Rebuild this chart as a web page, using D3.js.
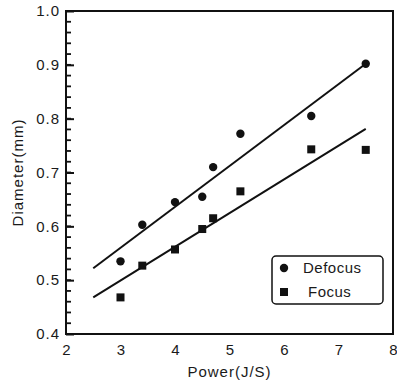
<!DOCTYPE html>
<html>
<head>
<meta charset="utf-8">
<script src="https://cdn.jsdelivr.net/npm/d3@7"></script>
<style>
  body { margin: 0; background: #fff; }
  text { font-family: "Liberation Sans", Arial, sans-serif; fill: #1a1a1a; }
</style>
</head>
<body>
<div id="chart"></div>
<script>
// data
var power = [3, 3.4, 4, 4.5, 4.7, 5.2, 6.5, 7.5]
var defocus = [0.535, 0.603, 0.645, 0.655, 0.71, 0.772, 0.805, 0.902]
var focus = [0.468, 0.527, 0.557, 0.595, 0.615, 0.665, 0.743, 0.742]
// fitted lines, end points as drawn
var fitX = [2.5, 7.5]
var fitDefocus = [0.522, 0.902]
var fitFocus = [0.468, 0.781]
var xTicks = [2, 3, 4, 5, 6, 7, 8]
var yTicks = [0.4, 0.5, 0.6, 0.7, 0.8, 0.9, 1.0]
var legendNames = ["Defocus", "Focus"]

var W = 397, H = 382
// plot box (note: "top" is taken by window.top)
var pL = 66, pR = 393, pT = 11, pB = 334

var svg = d3.select("#chart").append("svg")
    .attr("width", W)
    .attr("height", H)

var x = d3.scaleLinear().domain([2, 8]).range([pL, pR])
var y = d3.scaleLinear().domain([0.4, 1.0]).range([pB, pT])

// frame
svg.append("rect")
    .attr("x", pL).attr("y", pT)
    .attr("width", pR - pL).attr("height", pB - pT)
    .attr("fill", "none")
    .attr("stroke", "#111")
    .attr("stroke-width", 2)

// y ticks pointing inward: minor every 0.02, major at labels
var minorY = d3.range(21, 50).map(d => d / 50)
svg.append("g").selectAll("line")
    .data(minorY)
    .enter().append("line")
    .attr("x1", pL).attr("x2", pL + 5)
    .attr("y1", d => y(d)).attr("y2", d => y(d))
    .attr("stroke", "#111")
    .attr("stroke-width", 1.8)

var yAxis = svg.append("g")
    .attr("transform", "translate(" + pL + ",0)")
    .call(d3.axisLeft(y).tickValues(yTicks).tickSize(0).tickPadding(6).tickFormat(d3.format(".1f")))
yAxis.select(".domain").remove()
yAxis.selectAll(".tick line")
    .attr("x1", 0).attr("x2", 8)
    .attr("stroke", "#111").attr("stroke-width", 2)
yAxis.selectAll("text")
    .style("font-size", "15px")
    .style("letter-spacing", "1px")
    .style("font-family", "'Liberation Sans', Arial, sans-serif")
    .attr("fill", "#1a1a1a")

// x labels, no tick marks
var xAxis = svg.append("g")
    .attr("transform", "translate(0," + pB + ")")
    .call(d3.axisBottom(x).tickValues(xTicks).tickSize(0).tickPadding(10).tickFormat(d3.format("d")))
xAxis.select(".domain").remove()
xAxis.selectAll("text")
    .style("font-size", "15px")
    .style("font-family", "'Liberation Sans', Arial, sans-serif")
    .attr("fill", "#1a1a1a")

// axis titles
svg.append("text")
    .attr("x", (pL + pR) / 2)
    .attr("y", 377)
    .attr("text-anchor", "middle")
    .style("font-size", "15px")
    .style("letter-spacing", "1px")
    .text("Power(J/S)")

svg.append("text")
    .attr("transform", "translate(23," + (pT + pB) / 2 + ")rotate(-90)")
    .attr("text-anchor", "middle")
    .style("font-size", "15px")
    .style("letter-spacing", "1px")
    .text("Diameter(mm)")

// fit lines
var line = d3.line().x(d => x(d[0])).y(d => y(d[1]))
;[fitDefocus, fitFocus].forEach(function(f) {
    svg.append("path")
        .datum(fitX.map((v, i) => [v, f[i]]))
        .attr("d", line)
        .attr("fill", "none")
        .attr("stroke", "#111")
        .attr("stroke-width", 2)
})

// points
svg.selectAll(".dot")
    .data(power.map((p, i) => [p, defocus[i]]))
    .enter().append("circle")
    .attr("class", "dot")
    .attr("cx", d => x(d[0]))
    .attr("cy", d => y(d[1]))
    .attr("r", 4.2)
    .attr("fill", "#111")

svg.selectAll(".sq")
    .data(power.map((p, i) => [p, focus[i]]))
    .enter().append("rect")
    .attr("class", "sq")
    .attr("x", d => x(d[0]) - 4)
    .attr("y", d => y(d[1]) - 4)
    .attr("width", 8)
    .attr("height", 8)
    .attr("fill", "#111")

// legend
var lg = svg.append("g")
lg.append("rect")
    .attr("x", 272).attr("y", 256)
    .attr("width", 111).attr("height", 48)
    .attr("rx", 4)
    .attr("fill", "#fff")
    .attr("stroke", "#111")
    .attr("stroke-width", 1.5)
lg.append("circle").attr("cx", 284).attr("cy", 268).attr("r", 4.2).attr("fill", "#111")
lg.append("rect").attr("x", 280).attr("y", 288).attr("width", 8).attr("height", 8).attr("fill", "#111")
lg.selectAll(".lt")
    .data(legendNames)
    .enter().append("text")
    .attr("class", "lt")
    .attr("x", (d, i) => i == 0 ? 303 : 308)
    .attr("y", (d, i) => 273 + i * 24)
    .style("font-size", "15px")
    .style("letter-spacing", "0.5px")
    .text(d => d)
</script>
</body>
</html>
